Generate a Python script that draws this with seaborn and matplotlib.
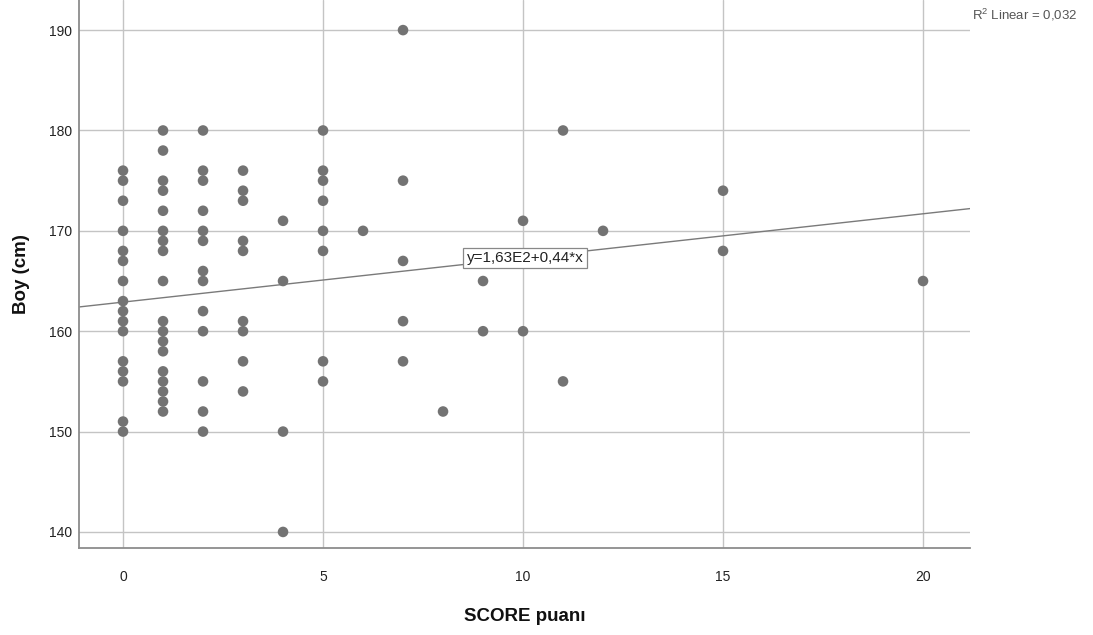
import numpy as np
import pandas as pd
import matplotlib
matplotlib.use("Agg")
import matplotlib.pyplot as plt
import seaborn as sns

# ---- data ----
score_0 = [176, 175, 173, 170, 168, 167, 165, 163, 162, 161, 160, 157, 156, 155, 151, 150]
score_1 = [180, 178, 175, 174, 172, 170, 169, 168, 165, 161, 160, 159, 158, 156, 155, 154, 153, 152]
score_2 = [180, 176, 175, 172, 170, 169, 166, 165, 162, 160, 155, 152, 150]
score_3 = [176, 174, 173, 169, 168, 161, 160, 157, 154]
score_4 = [171, 165, 150, 140]
score_5 = [180, 176, 175, 173, 170, 168, 157, 155]
score_6 = [170]
score_7 = [190, 175, 167, 161, 157]
score_8 = [152]
score_9 = [165, 160]
score_10 = [171, 160]
score_11 = [180, 155]
score_12 = [170]
score_15 = [174, 168]
score_20 = [165]

groups = {0: score_0, 1: score_1, 2: score_2, 3: score_3, 4: score_4, 5: score_5,
          6: score_6, 7: score_7, 8: score_8, 9: score_9, 10: score_10, 11: score_11,
          12: score_12, 15: score_15, 20: score_20}

fit_intercept = 162.9
fit_slope = 0.44
fit_label = "y=1,63E2+0,44*x"
r2_label = "R$^2$ Linear = 0,032"

x_ticks = [0, 5, 10, 15, 20]
y_ticks = [140, 150, 160, 170, 180, 190]

rows = [(k, v) for k, vals in groups.items() for v in vals]
df = pd.DataFrame(rows, columns=["SCORE puanı", "Boy (cm)"])

# ---- plotting ----
sns.set_theme(style="white")
plt.rcParams['font.family'] = ['Liberation Sans', 'DejaVu Sans']
plt.rcParams['mathtext.fontset'] = 'custom'
plt.rcParams['mathtext.rm'] = 'Liberation Sans'

fig = plt.figure(figsize=(10.93, 6.35), dpi=100)
ax = fig.add_axes([0.0723, 0.137, 0.8152, 0.863])

xlim = (-1.1, 21.175)
ylim = (138.4, 193.0)

line_df = pd.DataFrame({"x": list(xlim),
                        "y": [fit_intercept + fit_slope * xv for xv in xlim]})

ax.set_axisbelow(True)
ax.grid(True, color="#c4c4c4", linewidth=1.0)

sns.lineplot(data=line_df, x="x", y="y", ax=ax, color="#7a7a7a", linewidth=1.0, zorder=2)
sns.scatterplot(data=df, x="SCORE puanı", y="Boy (cm)", ax=ax, s=58,
                color="#737373", edgecolor="none", zorder=3)

ax.set_xlim(*xlim)
ax.set_ylim(*ylim)
ax.set_xticks(x_ticks)
ax.set_yticks(y_ticks)
ax.tick_params(axis="both", length=0, labelsize=10, labelcolor="#222222")
ax.tick_params(axis="y", pad=5)
ax.tick_params(axis="x", pad=16)

for side in ["top", "right"]:
    ax.spines[side].set_visible(False)
for side in ["left", "bottom"]:
    ax.spines[side].set_color("#8c8c8c")
    ax.spines[side].set_linewidth(1.3)

ax.set_xlabel("SCORE puanı", fontsize=13.5, fontweight="bold", labelpad=17, color="#111111")
ax.set_ylabel("Boy (cm)", fontsize=13.5, fontweight="bold", labelpad=14, color="#111111")

ax.text(10.05, 167.3, fit_label, fontsize=11, color="#222222", ha="center", va="center",
        bbox=dict(boxstyle="square,pad=0.22", facecolor="white", edgecolor="#888888", linewidth=0.9),
        zorder=4)

fig.text(0.889, 0.976, r2_label, fontsize=9.5, color="#555555", ha="left", va="center")

fig.savefig("out.png", dpi=100)
